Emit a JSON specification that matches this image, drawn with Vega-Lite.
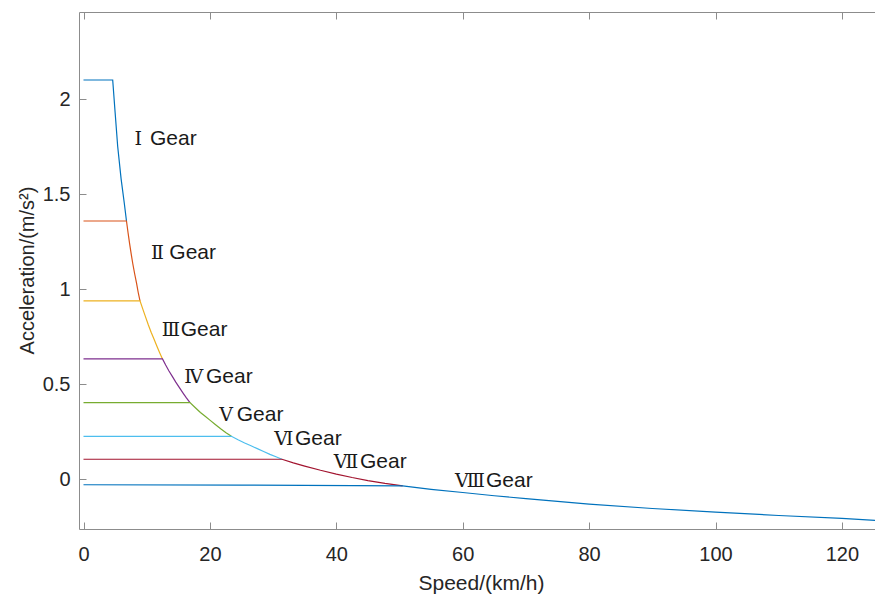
{
  "$schema": "https://vega.github.io/schema/vega-lite/v6.json",
  "autosize": "none",
  "width": 797,
  "height": 517,
  "padding": {"left": 79, "top": 12, "right": 0, "bottom": 65},
  "background": "white",
  "view": {"stroke": "#8c8c8c", "strokeWidth": 1},
  "config": {
    "axis": {
      "labelFont": "Liberation Sans",
      "titleFont": "Liberation Sans",
      "labelColor": "#262626",
      "titleColor": "#262626",
      "tickColor": "#8c8c8c",
      "tickSize": -7,
      "grid": false,
      "domain": false,
      "titleFontWeight": "normal"
    }
  },
  "datasets": {
    "lines": [
      {"g": "I", "x": 0, "y": 2.1}, {"g": "I", "x": 4.62, "y": 2.1}, {"g": "I", "x": 5.0, "y": 1.93}, {"g": "I", "x": 5.41, "y": 1.75}, {"g": "I", "x": 5.95, "y": 1.58}, {"g": "I", "x": 6.46, "y": 1.45}, {"g": "I", "x": 6.8, "y": 1.358},
      {"g": "II", "x": 0, "y": 1.358}, {"g": "II", "x": 6.8, "y": 1.358}, {"g": "II", "x": 7.05, "y": 1.296}, {"g": "II", "x": 7.3, "y": 1.238}, {"g": "II", "x": 7.55, "y": 1.184}, {"g": "II", "x": 7.8, "y": 1.133}, {"g": "II", "x": 8.1, "y": 1.079}, {"g": "II", "x": 8.4, "y": 1.030}, {"g": "II", "x": 8.65, "y": 0.983}, {"g": "II", "x": 8.94, "y": 0.938},
      {"g": "III", "x": 0, "y": 0.938}, {"g": "III", "x": 8.94, "y": 0.938}, {"g": "III", "x": 9.4, "y": 0.893}, {"g": "III", "x": 9.8, "y": 0.855}, {"g": "III", "x": 10.25, "y": 0.812}, {"g": "III", "x": 10.7, "y": 0.773}, {"g": "III", "x": 11.15, "y": 0.737}, {"g": "III", "x": 11.6, "y": 0.700}, {"g": "III", "x": 12.05, "y": 0.665}, {"g": "III", "x": 12.5, "y": 0.632},
      {"g": "IV", "x": 0, "y": 0.632}, {"g": "IV", "x": 12.5, "y": 0.632}, {"g": "IV", "x": 13.0, "y": 0.600}, {"g": "IV", "x": 13.5, "y": 0.570}, {"g": "IV", "x": 14.05, "y": 0.540}, {"g": "IV", "x": 14.6, "y": 0.510}, {"g": "IV", "x": 15.15, "y": 0.482}, {"g": "IV", "x": 15.7, "y": 0.455}, {"g": "IV", "x": 16.25, "y": 0.428}, {"g": "IV", "x": 16.85, "y": 0.402},
      {"g": "V", "x": 0, "y": 0.402}, {"g": "V", "x": 16.85, "y": 0.402}, {"g": "V", "x": 17.7, "y": 0.375}, {"g": "V", "x": 18.5, "y": 0.350}, {"g": "V", "x": 19.25, "y": 0.330}, {"g": "V", "x": 20, "y": 0.310}, {"g": "V", "x": 20.85, "y": 0.287}, {"g": "V", "x": 21.7, "y": 0.265}, {"g": "V", "x": 22.55, "y": 0.244}, {"g": "V", "x": 23.4, "y": 0.225},
      {"g": "VI", "x": 0, "y": 0.225}, {"g": "VI", "x": 23.4, "y": 0.225}, {"g": "VI", "x": 24.45, "y": 0.207}, {"g": "VI", "x": 25.5, "y": 0.190}, {"g": "VI", "x": 26.5, "y": 0.175}, {"g": "VI", "x": 27.5, "y": 0.160}, {"g": "VI", "x": 28.5, "y": 0.145}, {"g": "VI", "x": 29.5, "y": 0.130}, {"g": "VI", "x": 30.45, "y": 0.117}, {"g": "VI", "x": 31.4, "y": 0.104},
      {"g": "VII", "x": 0, "y": 0.104}, {"g": "VII", "x": 31.4, "y": 0.104}, {"g": "VII", "x": 33.2, "y": 0.085}, {"g": "VII", "x": 35, "y": 0.068}, {"g": "VII", "x": 37.5, "y": 0.046}, {"g": "VII", "x": 40, "y": 0.026}, {"g": "VII", "x": 42.5, "y": 0.008}, {"g": "VII", "x": 45, "y": -0.008}, {"g": "VII", "x": 47.7, "y": -0.023}, {"g": "VII", "x": 50.5, "y": -0.036},
      {"g": "VIII", "x": 0, "y": -0.030}, {"g": "VIII", "x": 25, "y": -0.032}, {"g": "VIII", "x": 50.5, "y": -0.036}, {"g": "VIII", "x": 55, "y": -0.054}, {"g": "VIII", "x": 60, "y": -0.071}, {"g": "VIII", "x": 65, "y": -0.088}, {"g": "VIII", "x": 70, "y": -0.103}, {"g": "VIII", "x": 75, "y": -0.118}, {"g": "VIII", "x": 80, "y": -0.132}, {"g": "VIII", "x": 90, "y": -0.155}, {"g": "VIII", "x": 100, "y": -0.174}, {"g": "VIII", "x": 110, "y": -0.192}, {"g": "VIII", "x": 120, "y": -0.207}, {"g": "VIII", "x": 125.4, "y": -0.218}
    ],
    "labels": [
      {"n": "Ⅰ", "w": "Gear", "xn": 9.26, "xg": 10.52, "y": 1.758},
      {"n": "Ⅱ", "w": "Gear", "xn": 12.74, "xg": 13.58, "y": 1.156},
      {"n": "Ⅲ", "w": "Gear", "xn": 15.27, "xg": 15.38, "y": 0.753},
      {"n": "Ⅳ", "w": "Gear", "xn": 18.96, "xg": 19.38, "y": 0.507},
      {"n": "Ⅴ", "w": "Gear", "xn": 23.65, "xg": 24.24, "y": 0.305},
      {"n": "Ⅵ", "w": "Gear", "xn": 33.2, "xg": 33.47, "y": 0.179},
      {"n": "Ⅶ", "w": "Gear", "xn": 43.48, "xg": 43.75, "y": 0.056},
      {"n": "Ⅷ", "w": "Gear", "xn": 63.53, "xg": 63.69, "y": -0.044}
    ]
  },
  "encoding": {
    "y": {
      "field": "y", "type": "quantitative",
      "scale": {"domain": [-0.263, 2.458], "nice": false, "zero": false},
      "axis": {
        "orient": "left",
        "values": [0, 0.5, 1, 1.5, 2],
        "format": "~g",
        "labelFontSize": 20,
        "labelPadding": 16,
        "title": "Acceleration/(m/s²)",
        "titleFontSize": 20,
        "titleBaseline": "alphabetic",
        "titleX": -46,
        "titleY": 258
      }
    }
  },
  "layer": [
    {
      "data": {"name": "lines"},
      "mark": {"type": "line", "strokeWidth": 1.2, "interpolate": "linear"},
      "encoding": {
        "x": {
          "field": "x", "type": "quantitative",
          "scale": {"domain": [-0.712, 125.39], "nice": false, "zero": false},
          "axis": {
            "orient": "bottom",
            "values": [0, 20, 40, 60, 80, 100, 120],
            "labelFontSize": 20,
            "labelPadding": 22,
            "title": "Speed/(km/h)",
            "titleFontSize": 21,
            "titleBaseline": "alphabetic",
            "titleX": 402,
            "titleY": 60
          }
        },
        "color": {
          "field": "g", "type": "nominal",
          "scale": {
            "domain": ["I", "II", "III", "IV", "V", "VI", "VII", "VIII"],
            "range": ["#0072BD", "#D95319", "#EDB120", "#7E2F8E", "#77AC30", "#4DBEEE", "#A2142F", "#0072BD"]
          },
          "legend": null
        }
      }
    },
    {
      "data": {"name": "labels"},
      "mark": {"type": "text", "align": "right", "baseline": "alphabetic", "font": "DejaVu Serif", "fontSize": 19, "color": "#1a1a1a"},
      "encoding": {
        "x": {
          "field": "xn", "type": "quantitative",
          "scale": {"domain": [-0.712, 125.39], "nice": false, "zero": false},
          "axis": {"orient": "top", "values": [0, 20, 40, 60, 80, 100, 120], "labels": false, "title": null}
        },
        "text": {"field": "n"}
      }
    },
    {
      "data": {"name": "labels"},
      "mark": {"type": "text", "align": "left", "baseline": "alphabetic", "font": "Liberation Sans", "fontSize": 21, "color": "#1a1a1a"},
      "encoding": {
        "x": {
          "field": "xg", "type": "quantitative",
          "scale": {"domain": [-0.712, 125.39], "nice": false, "zero": false},
          "axis": null
        },
        "text": {"field": "w"}
      }
    }
  ],
  "resolve": {"axis": {"x": "independent"}}
}
